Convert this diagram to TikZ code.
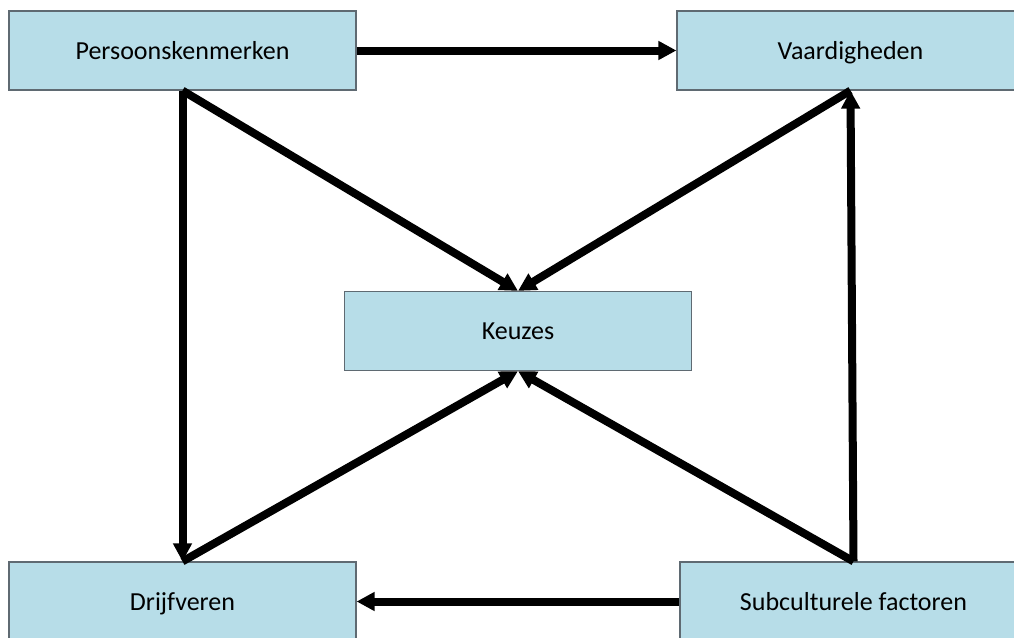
\documentclass[tikz,border=0pt]{standalone}
\usepackage{fontspec}
\setmainfont{Carlito}
\usetikzlibrary{arrows.meta}
\definecolor{boxfill}{HTML}{B7DDE8}
\definecolor{boxline}{HTML}{5F6A72}
\begin{document}
\begin{tikzpicture}[x=1pt,y=-1pt,
  box/.style={draw=boxline,line width=1.2pt,fill=boxfill,minimum width=347pt,minimum height=79pt,inner sep=0pt,text height=19pt,text depth=2pt,font=\fontsize{26}{30}\selectfont},
  conn/.style={line width=8pt,-{Triangle[width=18pt,length=18pt]}}]
\useasboundingbox (0,0) rectangle (1014,637);
\clip (0,0) rectangle (1014,637);
\fill[white] (0,0) rectangle (1014,637);
\node[box] (P) at (182.5,50.5) {Persoonskenmerken};
\node[box] (V) at (850.5,50.5) {Vaardigheden};
\node[box] (K) at (518,331) {Keuzes};
\node[box] (D) at (182.5,601.5) {Drijfveren};
\node[box] (S) at (853.5,601.5) {Subculturele factoren};
\draw[conn] (P.east) -- (V.west);
\draw[conn] (P.south) -- (D.north);
\draw[conn] (P.south) -- (K.north);
\draw[conn] (V.south) -- (K.north);
\draw[conn] (S.north) -- (V.south);
\draw[conn] (S.north) -- (K.south);
\draw[conn] (D.north) -- (K.south);
\draw[conn] (S.west) -- (D.east);
\end{tikzpicture}
\end{document}
